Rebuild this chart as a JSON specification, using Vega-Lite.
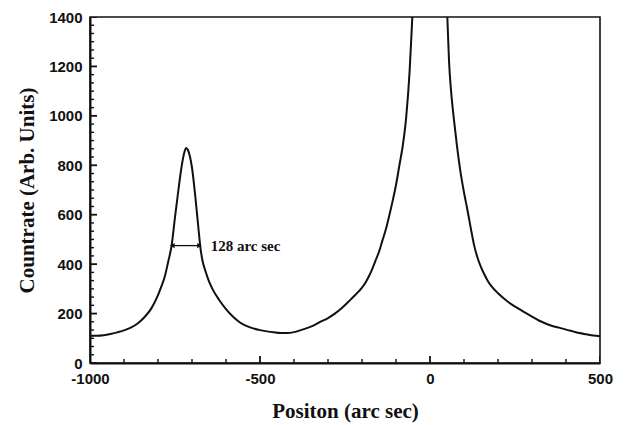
{
  "$schema": "https://vega.github.io/schema/vega-lite/v6.json",
  "width": 510,
  "height": 346,
  "autosize": "none",
  "padding": {"left": 90, "top": 17, "right": 25, "bottom": 62},
  "background": "white",
  "config": {
    "view": {"stroke": "#111", "strokeWidth": 1.6},
    "axis": {
      "grid": false,
      "ticks": false,
      "zindex": 1,
      "domainColor": "#111",
      "domainWidth": 2,
      "labelFont": "Liberation Sans",
      "labelFontWeight": "bold",
      "labelFontSize": 15,
      "labelColor": "#111",
      "labelOverlap": false,
      "tickCount": 100,
      "titleFont": "Liberation Serif",
      "titleFontWeight": "bold",
      "titleFontSize": 21,
      "titleColor": "#111"
    }
  },
  "datasets": {
    "curve": [
      {"pos": -1000, "count": 110}, {"pos": -980, "count": 110}, {"pos": -960, "count": 112},
      {"pos": -940, "count": 117}, {"pos": -920, "count": 124}, {"pos": -900, "count": 132},
      {"pos": -880, "count": 143}, {"pos": -860, "count": 160}, {"pos": -840, "count": 185},
      {"pos": -820, "count": 220}, {"pos": -800, "count": 275}, {"pos": -790, "count": 310},
      {"pos": -780, "count": 350}, {"pos": -770, "count": 410}, {"pos": -760, "count": 475},
      {"pos": -750, "count": 590}, {"pos": -740, "count": 700}, {"pos": -730, "count": 800},
      {"pos": -722, "count": 855}, {"pos": -717, "count": 870}, {"pos": -712, "count": 862},
      {"pos": -700, "count": 790}, {"pos": -690, "count": 670}, {"pos": -680, "count": 530},
      {"pos": -676, "count": 475}, {"pos": -670, "count": 420}, {"pos": -660, "count": 370},
      {"pos": -650, "count": 330}, {"pos": -640, "count": 300}, {"pos": -620, "count": 255},
      {"pos": -600, "count": 218}, {"pos": -580, "count": 188}, {"pos": -560, "count": 165},
      {"pos": -540, "count": 150}, {"pos": -520, "count": 140}, {"pos": -500, "count": 133},
      {"pos": -480, "count": 128}, {"pos": -460, "count": 124}, {"pos": -440, "count": 121},
      {"pos": -420, "count": 121}, {"pos": -400, "count": 125}, {"pos": -380, "count": 133},
      {"pos": -360, "count": 142}, {"pos": -340, "count": 153}, {"pos": -320, "count": 168},
      {"pos": -300, "count": 182}, {"pos": -280, "count": 200}, {"pos": -260, "count": 222},
      {"pos": -240, "count": 248}, {"pos": -220, "count": 275}, {"pos": -200, "count": 305},
      {"pos": -190, "count": 325}, {"pos": -180, "count": 350}, {"pos": -170, "count": 380},
      {"pos": -160, "count": 415}, {"pos": -150, "count": 450}, {"pos": -140, "count": 495},
      {"pos": -130, "count": 540}, {"pos": -120, "count": 595}, {"pos": -110, "count": 655},
      {"pos": -100, "count": 720}, {"pos": -90, "count": 800}, {"pos": -80, "count": 880},
      {"pos": -70, "count": 995}, {"pos": -60, "count": 1180}, {"pos": -52, "count": 1400},
      {"pos": -45, "count": 1600}, {"pos": -30, "count": 2200}, {"pos": -15, "count": 3000},
      {"pos": 0, "count": 3500}, {"pos": 15, "count": 3000}, {"pos": 30, "count": 2200},
      {"pos": 45, "count": 1600}, {"pos": 51, "count": 1400}, {"pos": 56, "count": 1220},
      {"pos": 62, "count": 1100}, {"pos": 70, "count": 990}, {"pos": 80, "count": 870},
      {"pos": 90, "count": 770}, {"pos": 100, "count": 690}, {"pos": 110, "count": 620},
      {"pos": 120, "count": 545}, {"pos": 130, "count": 475}, {"pos": 140, "count": 425},
      {"pos": 150, "count": 388}, {"pos": 160, "count": 358}, {"pos": 170, "count": 332},
      {"pos": 180, "count": 312}, {"pos": 200, "count": 282}, {"pos": 220, "count": 258},
      {"pos": 240, "count": 237}, {"pos": 260, "count": 220}, {"pos": 280, "count": 204},
      {"pos": 300, "count": 188}, {"pos": 320, "count": 172}, {"pos": 340, "count": 160},
      {"pos": 360, "count": 150}, {"pos": 380, "count": 143}, {"pos": 400, "count": 135},
      {"pos": 420, "count": 128}, {"pos": 440, "count": 121}, {"pos": 460, "count": 116},
      {"pos": 480, "count": 111}, {"pos": 500, "count": 108}
    ],
    "note": [
      {"x1": -758, "x2": -678, "y": 475, "tx": -645, "label": "128 arc sec"}
    ],
    "xmajor": [{"v": -1000}, {"v": -500}, {"v": 0}, {"v": 500}],
    "xminor": [{"v": -900}, {"v": -800}, {"v": -700}, {"v": -600}, {"v": -400}, {"v": -300}, {"v": -200}, {"v": -100}, {"v": 100}, {"v": 200}, {"v": 300}, {"v": 400}],
    "ymajor": [{"v": 0}, {"v": 200}, {"v": 400}, {"v": 600}, {"v": 800}, {"v": 1000}, {"v": 1200}, {"v": 1400}],
    "yminor": [
      {"v": 33.333}, {"v": 66.667}, {"v": 100}, {"v": 133.333}, {"v": 166.667},
      {"v": 233.333}, {"v": 266.667}, {"v": 300}, {"v": 333.333}, {"v": 366.667},
      {"v": 433.333}, {"v": 466.667}, {"v": 500}, {"v": 533.333}, {"v": 566.667},
      {"v": 633.333}, {"v": 666.667}, {"v": 700}, {"v": 733.333}, {"v": 766.667},
      {"v": 833.333}, {"v": 866.667}, {"v": 900}, {"v": 933.333}, {"v": 966.667},
      {"v": 1033.333}, {"v": 1066.667}, {"v": 1100}, {"v": 1133.333}, {"v": 1166.667},
      {"v": 1233.333}, {"v": 1266.667}, {"v": 1300}, {"v": 1333.333}, {"v": 1366.667}
    ]
  },
  "layer": [
    {
      "data": {"name": "curve"},
      "mark": {"type": "line", "color": "#111", "strokeWidth": 2, "clip": true, "interpolate": "monotone"},
      "encoding": {
        "x": {
          "field": "pos", "type": "quantitative",
          "scale": {"domain": [-1000, 500], "nice": false},
          "axis": {
            "title": "Positon (arc sec)",
            "values": [-1000, -500, 0, 500],
            "labelExpr": "'' + datum.value",
            "labelFlush": false,
            "labelPadding": 8,
            "titleY": 54,
            "titleBaseline": "alphabetic"
          }
        },
        "y": {
          "field": "count", "type": "quantitative",
          "scale": {"domain": [0, 1400], "nice": false},
          "axis": {
            "title": "Countrate (Arb. Units)",
            "values": [0, 200, 400, 600, 800, 1000, 1200, 1400],
            "labelExpr": "'' + datum.value",
            "labelPadding": 8,
            "titleX": -57,
            "titleBaseline": "alphabetic"
          }
        }
      }
    },
    {
      "data": {"name": "xmajor"},
      "mark": {"type": "tick", "orient": "vertical", "size": 14, "thickness": 1.8, "color": "#111", "opacity": 1, "clip": true},
      "encoding": {
        "x": {"field": "v", "type": "quantitative"},
        "y": {"datum": 0}
      }
    },
    {
      "data": {"name": "xminor"},
      "mark": {"type": "tick", "orient": "vertical", "size": 8, "thickness": 1.4, "color": "#111", "opacity": 1, "clip": true},
      "encoding": {
        "x": {"field": "v", "type": "quantitative"},
        "y": {"datum": 0}
      }
    },
    {
      "data": {"name": "ymajor"},
      "mark": {"type": "tick", "orient": "horizontal", "size": 14, "thickness": 1.8, "color": "#111", "opacity": 1, "clip": true},
      "encoding": {
        "y": {"field": "v", "type": "quantitative"},
        "x": {"datum": -1000}
      }
    },
    {
      "data": {"name": "yminor"},
      "mark": {"type": "tick", "orient": "horizontal", "size": 8, "thickness": 1.4, "color": "#111", "opacity": 1, "clip": true},
      "encoding": {
        "y": {"field": "v", "type": "quantitative"},
        "x": {"datum": -1000}
      }
    },
    {
      "data": {"name": "note"},
      "mark": {"type": "rule", "color": "#111", "strokeWidth": 1.3},
      "encoding": {
        "x": {"field": "x1", "type": "quantitative"},
        "x2": {"field": "x2"},
        "y": {"field": "y", "type": "quantitative"}
      }
    },
    {
      "data": {"name": "note"},
      "mark": {"type": "point", "shape": "triangle-left", "filled": true, "color": "#111", "size": 28, "opacity": 1},
      "encoding": {
        "x": {"field": "x1", "type": "quantitative"},
        "y": {"field": "y", "type": "quantitative"}
      }
    },
    {
      "data": {"name": "note"},
      "mark": {"type": "point", "shape": "triangle-right", "filled": true, "color": "#111", "size": 28, "opacity": 1},
      "encoding": {
        "x": {"field": "x2", "type": "quantitative"},
        "y": {"field": "y", "type": "quantitative"}
      }
    },
    {
      "data": {"name": "note"},
      "mark": {"type": "text", "align": "left", "baseline": "middle", "font": "Liberation Serif", "fontWeight": "bold", "fontSize": 15, "color": "#111"},
      "encoding": {
        "x": {"field": "tx", "type": "quantitative"},
        "y": {"field": "y", "type": "quantitative"},
        "text": {"field": "label"}
      }
    }
  ]
}
